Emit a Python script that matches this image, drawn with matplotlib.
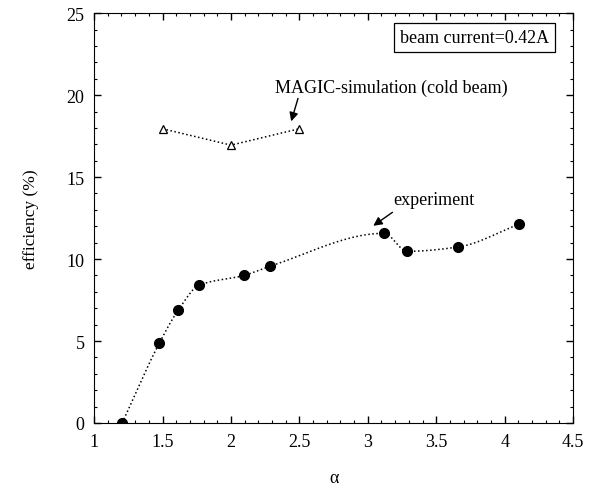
import numpy as np
import matplotlib.pyplot as plt

plt.rcParams.update({'font.family': 'Liberation Serif', 'font.size': 12})

# experiment
alpha_exp = [1.205, 1.475, 1.616, 1.767, 2.096, 2.283, 3.118, 3.289, 3.657, 4.105]
eff_exp = [0.0, 4.85, 6.9, 8.4, 9.0, 9.55, 11.57, 10.47, 10.73, 12.13]

# MAGIC simulation (cold beam)
alpha_sim = [1.5, 2.0, 2.5]
eff_sim = [17.95, 16.95, 17.95]


def pchip(x, y, n=400):
	# monotone cubic through the points (no overshoot)
	x = np.asarray(x, float)
	y = np.asarray(y, float)
	h = np.diff(x)
	d = np.diff(y) / h
	k = len(x)
	m = np.zeros(k)
	for i in range(1, k - 1):
		if d[i - 1] * d[i] > 0:
			w1 = 2 * h[i] + h[i - 1]
			w2 = h[i] + 2 * h[i - 1]
			m[i] = (w1 + w2) / (w1 / d[i - 1] + w2 / d[i])
	m[0] = d[0]
	m[-1] = d[-1]
	xs = np.linspace(x[0], x[-1], n)
	idx = np.clip(np.searchsorted(x, xs) - 1, 0, k - 2)
	hh = h[idx]
	t = (xs - x[idx]) / hh
	h00 = 2 * t**3 - 3 * t**2 + 1
	h10 = t**3 - 2 * t**2 + t
	h01 = -2 * t**3 + 3 * t**2
	h11 = t**3 - t**2
	ys = h00 * y[idx] + h10 * hh * m[idx] + h01 * y[idx + 1] + h11 * hh * m[idx + 1]
	return xs, ys


fig = plt.figure(figsize=(5.92, 4.89), dpi=100)
ax = fig.add_axes([0.159, 0.133, 0.809, 0.838])

xs, ys = pchip(alpha_exp, eff_exp)
ax.plot(xs, ys, ':', color='black', lw=1.1)
ax.plot(alpha_exp, eff_exp, 'o', color='black', ms=7)

ax.plot(alpha_sim, eff_sim, ':', color='black', lw=1.1)
ax.plot(alpha_sim, eff_sim, '^', mfc='white', mec='black', ms=5.5, mew=0.9)

ax.set_xlim(1, 4.5)
ax.set_ylim(0, 25)
ax.set_xticks([1, 1.5, 2, 2.5, 3, 3.5, 4, 4.5])
ax.set_xticklabels(['1', '1.5', '2', '2.5', '3', '3.5', '4', '4.5'])
ax.set_yticks([0, 5, 10, 15, 20, 25])
ax.set_xticks(np.arange(1, 4.51, 0.1), minor=True)
ax.set_yticks(np.arange(0, 25.1, 1), minor=True)
ax.tick_params(which='both', direction='in', top=True, right=True)
ax.tick_params(which='major', length=5, width=1, pad=7, labelsize=13)
ax.tick_params(which='minor', length=2.5, width=0.8)

ax.set_xlabel('α', fontsize=13, labelpad=14)
ax.set_ylabel('efficiency (%)', fontsize=12.5, labelpad=20)

ax.text(3.78, 23.5, 'beam current=0.42A', ha='center', va='center', fontsize=13,
	bbox=dict(boxstyle='square,pad=0.32', fc='white', ec='black', lw=0.9))

ax.text(3.17, 20.5, 'MAGIC-simulation (cold beam)', ha='center', va='center', fontsize=13)
ax.annotate('', xy=(2.44, 18.4), xytext=(2.49, 19.8),
	arrowprops=dict(arrowstyle='-|>', color='black', lw=1, shrinkA=0, shrinkB=0, mutation_scale=13))

ax.text(3.48, 13.65, 'experiment', ha='center', va='center', fontsize=13)
ax.annotate('', xy=(3.04, 12.03), xytext=(3.18, 12.85),
	arrowprops=dict(arrowstyle='-|>', color='black', lw=1, shrinkA=0, shrinkB=0, mutation_scale=13))

plt.savefig('out.png', dpi=100)
